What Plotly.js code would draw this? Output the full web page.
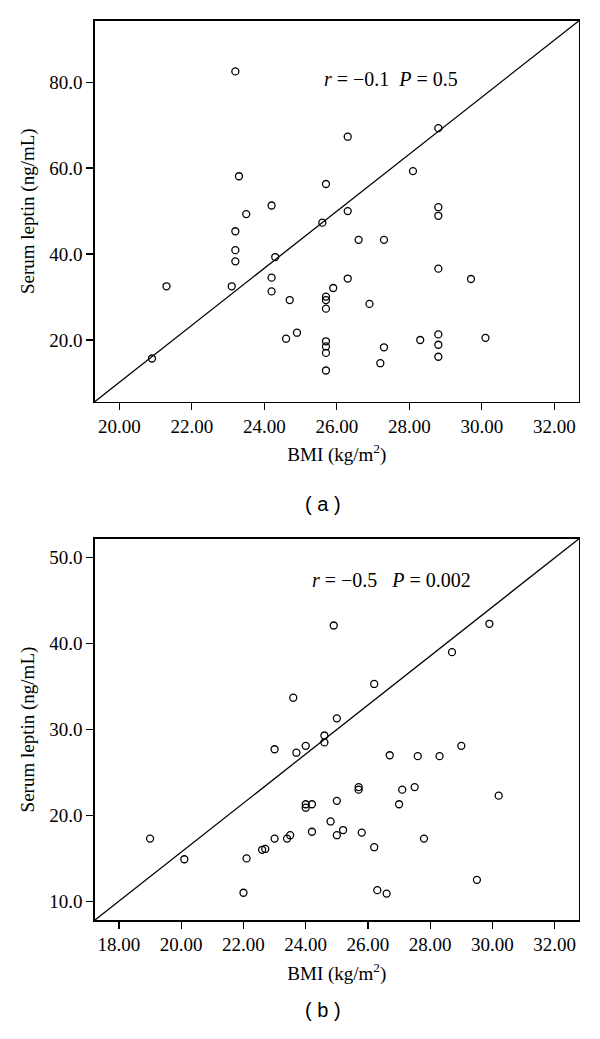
<!DOCTYPE html>
<html>
<head>
<meta charset="utf-8">
<script src="https://cdn.plot.ly/plotly-3.0.1.min.js"></script>
<style>
  body { margin: 0; background: #fff; }
  #chart { width: 600px; height: 1039px; }
</style>
</head>
<body>
<div id="chart"></div>
<script>
// panel (a): BMI vs serum leptin
var bmiA = [20.9, 21.3, 23.1, 23.2, 23.2, 23.2, 23.2, 23.3, 23.5, 24.2, 24.2, 24.2, 24.3, 24.6, 24.7,
            24.9, 25.6, 25.7, 25.7, 25.7, 25.7, 25.7, 25.7, 25.7, 25.7, 25.9, 26.3, 26.3, 26.3, 26.6,
            26.9, 27.2, 27.3, 27.3, 28.1, 28.3, 28.8, 28.8, 28.8, 28.8, 28.8, 28.8, 28.8, 29.7, 30.1];
var leptinA = [15.7, 32.5, 32.5, 38.3, 40.9, 45.3, 82.5, 58.1, 49.3, 51.3, 34.5, 31.3, 39.3, 20.3, 29.3,
               21.7, 47.3, 56.3, 30.1, 29.3, 27.3, 19.7, 18.5, 17.0, 12.9, 32.1, 67.3, 50.0, 34.3, 43.3,
               28.4, 14.6, 43.3, 18.3, 59.3, 20.0, 69.3, 50.9, 48.9, 36.6, 21.3, 18.9, 16.1, 34.2, 20.5];

// panel (b)
var bmiB = [24.9, 29.9, 28.7, 26.2, 23.6, 25.0, 24.6, 24.6, 23.0, 23.7, 24.0, 26.7, 27.6, 28.3, 29.0,
            25.7, 25.7, 27.1, 27.5, 30.2, 27.0, 25.0, 24.0, 24.0, 24.2, 24.8, 24.2, 25.2, 25.8, 25.0,
            23.0, 23.4, 23.5, 27.8, 19.0, 20.1, 22.1, 22.6, 22.7, 26.2, 22.0, 26.3, 26.6, 29.5];
var leptinB = [42.1, 42.3, 39.0, 35.3, 33.7, 31.3, 29.3, 28.5, 27.7, 27.3, 28.1, 27.0, 26.9, 26.9, 28.1,
               23.3, 23.0, 23.0, 23.3, 22.3, 21.3, 21.7, 21.3, 20.9, 21.3, 19.3, 18.1, 18.3, 18.0, 17.7,
               17.3, 17.3, 17.7, 17.3, 17.3, 14.9, 15.0, 16.0, 16.1, 16.3, 11.0, 11.3, 10.9, 12.5];

var statsA = "<i>r</i> = \u22120.1\u00a0\u00a0<i>P</i> = 0.5";
var statsB = "<i>r</i> = \u22120.5\u00a0\u00a0\u00a0<i>P</i> = 0.002";
var xTitle = "BMI (kg/m<sup>2</sup>)";
var yTitle = "Serum leptin (ng/mL)";

var serif = "Liberation Serif, Times New Roman, serif";

var pts = {
  mode: "markers",
  type: "scatter",
  marker: { symbol: "circle-open", size: 7, color: "#000", line: { width: 1.3, color: "#000" } },
  hoverinfo: "x+y",
  showlegend: false
};

var data = [
  Object.assign({}, pts, { x: bmiA, y: leptinA, xaxis: "x", yaxis: "y" }),
  Object.assign({}, pts, { x: bmiB, y: leptinB, xaxis: "x2", yaxis: "y2" })
];

function xax(range, tick0, anchor) {
  return {
    domain: [0.1578, 0.965], anchor: anchor, range: range,
    tick0: tick0, dtick: 2, tickformat: ".2f",
    ticks: "outside", ticklen: 7, tickwidth: 1.2, tickcolor: "#000",
    showline: true, mirror: true, linecolor: "#000", linewidth: 1.3,
    showgrid: false, zeroline: false,
    tickfont: { family: serif, size: 19, color: "#000" },
    title: { text: xTitle, standoff: 12, font: { family: serif, size: 19, color: "#000" } }
  };
}
function yax(domain, range, dtick, anchor) {
  return {
    domain: domain, anchor: anchor, range: range,
    tick0: 0, dtick: dtick, tickformat: ".1f",
    ticks: "outside", ticklen: 7, tickwidth: 1.2, tickcolor: "#000",
    showline: true, mirror: true, linecolor: "#000", linewidth: 1.3,
    showgrid: false, zeroline: false,
    tickfont: { family: serif, size: 19, color: "#000" },
    title: { text: yTitle, standoff: 9, font: { family: serif, size: 19, color: "#000" } }
  };
}

var diag = { type: "line", x0: 0, y0: 0, x1: 1, y1: 1, line: { color: "#000", width: 1.3 } };

var layout = {
  width: 600,
  height: 1039,
  margin: { l: 0, r: 0, t: 0, b: 0 },
  paper_bgcolor: "#fff",
  plot_bgcolor: "#fff",
  xaxis: xax([19.32, 32.68], 20, "y"),
  yaxis: yax([0.6134, 0.9801], [5.65, 94.3], 20, "x"),
  xaxis2: xax([17.22, 32.78], 18, "y2"),
  yaxis2: yax([0.1142, 0.4815], [7.79, 52.2], 10, "x2"),
  shapes: [
    Object.assign({ xref: "x domain", yref: "y domain" }, diag),
    Object.assign({ xref: "x2 domain", yref: "y2 domain" }, diag)
  ],
  annotations: [
    { text: statsA, xref: "paper", yref: "paper", x: 0.651, y: 0.9368, showarrow: false,
      font: { family: serif, size: 20, color: "#000" } },
    { text: statsB, xref: "paper", yref: "paper", x: 0.6528, y: 0.4418, showarrow: false,
      font: { family: serif, size: 20, color: "#000" } },
    { text: "( a )", xref: "paper", yref: "paper", x: 0.5375, y: 0.5149, showarrow: false,
      font: { family: "Liberation Sans, Arial, sans-serif", size: 20, color: "#000" } },
    { text: "( b )", xref: "paper", yref: "paper", x: 0.5375, y: 0.0157, showarrow: false,
      font: { family: "Liberation Sans, Arial, sans-serif", size: 20, color: "#000" } }
  ]
};

Plotly.newPlot("chart", data, layout, { displayModeBar: false, staticPlot: true });
</script>
</body>
</html>
